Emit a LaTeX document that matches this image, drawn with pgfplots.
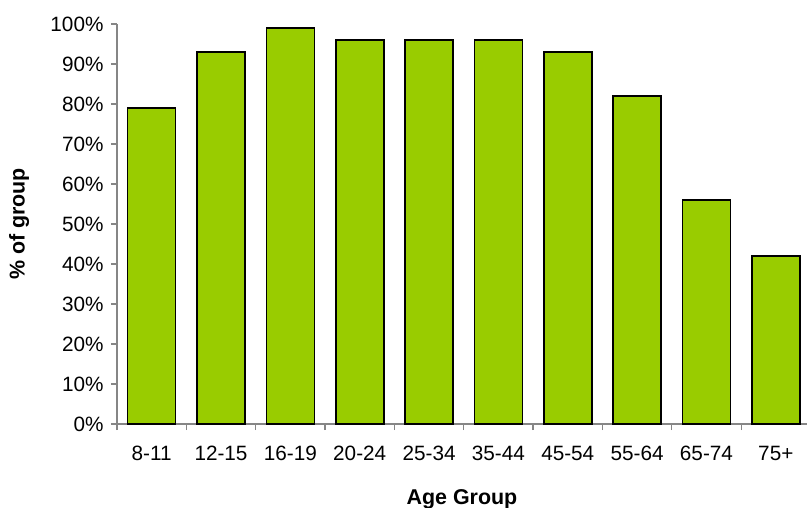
\documentclass[border=0pt]{standalone}
\usepackage{pgfplots}
\pgfplotsset{compat=1.18}
\usepackage{fontspec}
\setmainfont{Liberation Sans}
\definecolor{barg}{HTML}{99CC00}
\definecolor{axg}{HTML}{868686}
\begin{document}
\begin{tikzpicture}
\path[use as bounding box] (-117bp,-84bp) rectangle (690bp,424bp);
\begin{axis}[
  scale only axis,
  width=690bp, height=400bp,
  xmin=-0.5, xmax=9.45,
  ymin=0, ymax=100,
  axis x line*=bottom, axis y line*=left,
  axis line style={axg, line width=1.2bp},
  tick align=outside,
  major tick length=6bp, minor tick length=6bp,
  every tick/.style={axg, line width=1.2bp},
  xtick={0,...,9},
  xticklabels={8-11,12-15,16-19,20-24,25-34,35-44,45-54,55-64,65-74,75+},
  major x tick style={draw=none},
  minor xtick={-0.5,0.5,...,8.5},
  ytick={0,10,...,100},
  yticklabel={\pgfmathprintnumber{\tick}\%},
  /pgf/number format/assume math mode=true,
  tick label style={font=\fontsize{20.8}{24}\selectfont, black},
  xticklabel style={anchor=north, yshift=-13bp},
  yticklabel style={anchor=east, xshift=-4bp},
  xlabel={Age Group},
  ylabel={\% of group},
  label style={font=\bfseries\fontsize{21.5}{25}\selectfont},
  xlabel style={at={(rel axis cs:0.5,0)}, anchor=center, yshift=-75bp},
  ylabel style={at={(rel axis cs:-0.142,0.5)}, anchor=center},
  ybar, bar width=48bp,
  clip=false,
]
\addplot[draw=black, line width=1.6bp, fill=barg] coordinates {
(0,79) (1,93) (2,99) (3,96) (4,96) (5,96) (6,93) (7,82) (8,56) (9,42)};
\end{axis}
\end{tikzpicture}
\end{document}
